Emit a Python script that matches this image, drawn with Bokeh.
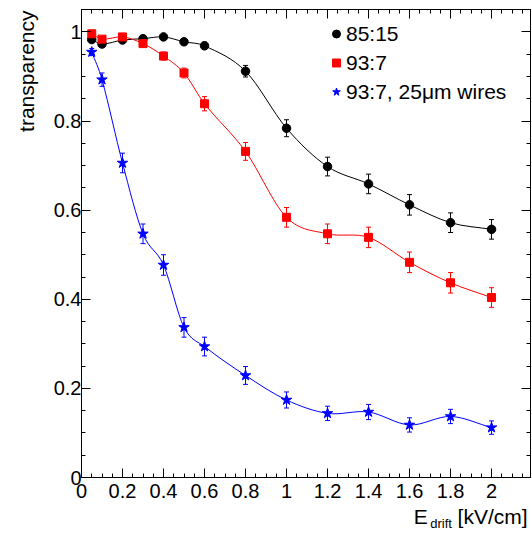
import numpy as np
from bokeh.plotting import figure
from bokeh.models import (ColumnDataSource, Whisker, TeeHead, FixedTicker, LinearAxis,
                          Range1d, Legend, LegendItem, CustomJSTickFormatter, Title)
from bokeh.embed import file_html
from bokeh.resources import INLINE

# ---------------- data ----------------
e_drift = [0.05, 0.1, 0.2, 0.3, 0.4, 0.5, 0.6, 0.8, 1.0, 1.2, 1.4, 1.6, 1.8, 2.0]

t_85_15 = [0.983, 0.973, 0.982, 0.985, 0.989, 0.978, 0.969, 0.912, 0.784, 0.698, 0.659, 0.612, 0.572, 0.557]
e_85_15 = [0.004, 0.004, 0.004, 0.004, 0.004, 0.005, 0.008, 0.013, 0.019, 0.021, 0.022, 0.023, 0.022, 0.022]

t_93_7 = [0.996, 0.984, 0.989, 0.974, 0.946, 0.908, 0.839, 0.732, 0.584, 0.547, 0.539, 0.483, 0.437, 0.404]
e_93_7 = [0.004, 0.004, 0.005, 0.006, 0.009, 0.011, 0.016, 0.020, 0.022, 0.022, 0.023, 0.023, 0.023, 0.022]

t_93_7_25um = [0.955, 0.893, 0.706, 0.547, 0.477, 0.337, 0.294, 0.229, 0.174, 0.144, 0.147, 0.118, 0.137, 0.112]
e_93_7_25um = [0.008, 0.015, 0.022, 0.022, 0.023, 0.022, 0.021, 0.020, 0.018, 0.016, 0.017, 0.016, 0.016, 0.015]

series_labels = ["85:15", "93:7", "93:7, 25\u03bcm wires"]
series_colors = ["#000000", "#ff0000", "#0000ff"]
series_markers = ["circle", "square", "star"]

x_ticks = [0, 0.2, 0.4, 0.6, 0.8, 1.0, 1.2, 1.4, 1.6, 1.8, 2.0]
x_tick_labels = ["0", "0.2", "0.4", "0.6", "0.8", "1", "1.2", "1.4", "1.6", "1.8", "2"]
y_ticks = [0, 0.2, 0.4, 0.6, 0.8, 1.0]
y_tick_labels = ["0", "0.2", "0.4", "0.6", "0.8", "1"]
x_minor = [round(v, 2) for v in np.arange(0, 2.19, 0.05)]
y_minor = [round(v, 2) for v in np.arange(0, 1.051, 0.05)]

y_title = "transparency"
x_title_main = "E"
x_title_sub = "drift"
x_title_unit = "[kV/cm]"

FONT = "Liberation Sans"

# ---------------- figure ----------------
p = figure(width=532, height=533, output_backend="svg", toolbar_location=None,
           x_range=Range1d(0, 2.19), y_range=Range1d(0, 1.0505),
           min_border_left=80, min_border_right=2, min_border_top=9, min_border_bottom=56,
           x_axis_location=None, y_axis_location=None)
p.xgrid.visible = False
p.ygrid.visible = False
p.outline_line_color = "black"
p.outline_line_width = 1
p.background_fill_color = "white"
p.border_fill_color = "white"


def style_axis(ax, ticks, minor, labels, show_labels, standoff):
    ax.ticker = FixedTicker(ticks=ticks, minor_ticks=minor)
    ax.axis_line_color = "black"
    ax.major_tick_line_color = "black"
    ax.minor_tick_line_color = "black"
    ax.major_tick_in = 9
    ax.major_tick_out = 0
    ax.minor_tick_in = 4
    ax.minor_tick_out = 0
    ax.axis_label = None
    if show_labels:
        ax.major_label_overrides = {t: l for t, l in zip(ticks, labels)}
        ax.major_label_text_font = FONT
        ax.major_label_text_font_size = "20px"
        ax.major_label_text_color = "black"
        ax.major_label_standoff = standoff
    else:
        ax.formatter = CustomJSTickFormatter(code="return ''")
        ax.major_label_text_font_size = "0px"
        ax.major_label_standoff = 0


xb = LinearAxis()
style_axis(xb, x_ticks, x_minor, x_tick_labels, True, 6)
p.add_layout(xb, "below")
yl = LinearAxis()
style_axis(yl, y_ticks, y_minor, y_tick_labels, True, 0)
p.add_layout(yl, "left")
xt = LinearAxis()
style_axis(xt, x_ticks, x_minor, x_tick_labels, False, 0)
p.add_layout(xt, "above")
yr = LinearAxis()
style_axis(yr, y_ticks, y_minor, y_tick_labels, False, 0)
p.add_layout(yr, "right")


# x-axis title: tick-less helper axes carrying the text (E, [kV/cm]) and the subscript (drift)
def title_axis(positions, texts, size, standoff):
    ax = LinearAxis(ticker=FixedTicker(ticks=positions, minor_ticks=[]))
    ax.major_label_overrides = {t: l for t, l in zip(positions, texts)}
    ax.axis_line_color = None
    ax.major_tick_line_color = None
    ax.minor_tick_line_color = None
    ax.major_tick_in = 0
    ax.major_tick_out = 0
    ax.minor_tick_in = 0
    ax.minor_tick_out = 0
    ax.major_label_text_font = FONT
    ax.major_label_text_font_size = size
    ax.major_label_text_color = "black"
    ax.major_label_standoff = standoff
    ax.axis_label = None
    return ax


p.add_layout(title_axis([1.655, 2.005], [x_title_main, x_title_unit], "21px", 4), "below")
p.add_layout(title_axis([1.754], [x_title_sub], "13px", -15), "below")

# y-axis title, top-aligned like ROOT
p.add_layout(Title(text=y_title, align="right", offset=1, standoff=25,
                   text_font=FONT, text_font_size="21px", text_font_style="normal",
                   text_color="black"), "left")


def smooth_bezier(xs, ys):
    xs = np.asarray(xs, float)
    ys = np.asarray(ys, float)
    n = len(xs)
    m = np.zeros(n)
    for i in range(n):
        if i == 0:
            m[i] = (ys[1] - ys[0]) / (xs[1] - xs[0])
        elif i == n - 1:
            m[i] = (ys[-1] - ys[-2]) / (xs[-1] - xs[-2])
        else:
            m[i] = (ys[i + 1] - ys[i - 1]) / (xs[i + 1] - xs[i - 1])
    dx = xs[1:] - xs[:-1]
    return dict(x0=xs[:-1], y0=ys[:-1], x1=xs[1:], y1=ys[1:],
                cx0=xs[:-1] + dx / 3, cy0=ys[:-1] + m[:-1] * dx / 3,
                cx1=xs[1:] - dx / 3, cy1=ys[1:] - m[1:] * dx / 3)


all_vals = [t_85_15, t_93_7, t_93_7_25um]
all_errs = [e_85_15, e_93_7, e_93_7_25um]
sizes = {"circle": 8.5, "square": 8, "star": 11}
legend_items = []
for vals, errs, lab, col, mk in zip(all_vals, all_errs, series_labels, series_colors, series_markers):
    bz = ColumnDataSource(smooth_bezier(e_drift, vals))
    p.bezier(x0="x0", y0="y0", x1="x1", y1="y1", cx0="cx0", cy0="cy0", cx1="cx1", cy1="cy1",
             source=bz, line_color=col, line_width=1)
    v = np.asarray(vals)
    e = np.asarray(errs)
    src = ColumnDataSource(dict(x=e_drift, y=vals, upper=v + e, lower=v - e))
    w = Whisker(source=src, base="x", upper="upper", lower="lower", line_color=col, line_width=1,
                upper_head=TeeHead(size=5, line_color=col, line_width=1),
                lower_head=TeeHead(size=5, line_color=col, line_width=1), level="underlay")
    p.add_layout(w)
    r = p.scatter("x", "y", source=src, marker=mk, size=sizes[mk], fill_color=col, line_color=col)
    legend_items.append(LegendItem(label=lab, renderers=[r]))

legend = Legend(items=legend_items, location=(245, 371), margin=0, padding=0, spacing=0,
                glyph_width=20, glyph_height=29, label_height=29, label_standoff=0,
                label_text_font=FONT, label_text_font_size="21px", label_text_color="black",
                border_line_alpha=0, background_fill_alpha=0)
p.add_layout(legend)

open("out.html", "w").write(file_html(p, INLINE))
